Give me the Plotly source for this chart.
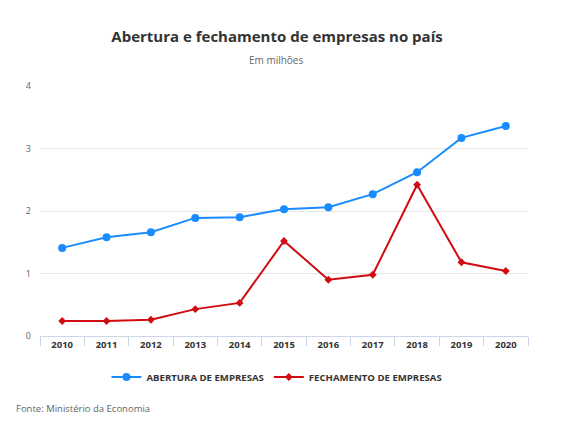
import plotly.graph_objects as go

anos = ["2010", "2011", "2012", "2013", "2014", "2015", "2016", "2017", "2018", "2019", "2020"]
abertura = [1.41, 1.58, 1.66, 1.89, 1.90, 2.03, 2.06, 2.27, 2.62, 3.17, 3.36]
fechamento = [0.24, 0.24, 0.26, 0.43, 0.53, 1.52, 0.90, 0.98, 2.42, 1.18, 1.04]

W, H = 567, 421
L, R, T, B = 40, 39, 86, 85
ph = H - T - B
pw = W - L - R

def py(px):
    return (H - B - px) / ph

def pxx(px):
    return (px - L) / pw

fig = go.Figure()
fig.add_trace(go.Scatter(
    x=anos, y=abertura, name="ABERTURA DE EMPRESAS", mode="lines+markers",
    line=dict(color="#1a8cff", width=2),
    marker=dict(symbol="circle", size=8, color="#1a8cff"),
))
fig.add_trace(go.Scatter(
    x=anos, y=fechamento, name="FECHAMENTO DE EMPRESAS", mode="lines+markers",
    line=dict(color="#d00b12", width=2),
    marker=dict(symbol="diamond", size=6, color="#d00b12"),
))

fig.update_layout(
    width=W, height=H,
    margin=dict(l=L, r=R, t=T, b=B),
    paper_bgcolor="white", plot_bgcolor="white",
    font=dict(family="Open Sans", color="#333333"),
    title=dict(text="<b>Abertura e fechamento de empresas no país</b>",
               x=277 / W, xref="container", xanchor="center",
               y=1 - 37 / H, yanchor="middle",
               font=dict(size=15, color="#333333")),
    showlegend=True,
    legend=dict(orientation="h", x=pxx(277), xanchor="center", y=py(377), yanchor="middle",
                font=dict(size=9.6, color="#333333", weight="bold"),
                tracegroupgap=0),
    annotations=[
        dict(text="Em milhões", x=pxx(276), y=py(60), xref="paper", yref="paper",
             showarrow=False, xanchor="center", yanchor="middle",
             font=dict(size=10, color="#666666")),
        dict(text="Fonte: Ministério da Economia", x=pxx(14), y=py(408),
             xref="paper", yref="paper", showarrow=False, xanchor="left", yanchor="middle",
             font=dict(size=9.5, color="#666666")),
    ],
    xaxis=dict(
        type="category", showgrid=False, showline=True, linecolor="#ccd6eb", linewidth=1,
        ticks="outside", tickson="boundaries", ticklen=9, tickcolor="#ccd6eb",
        tickfont=dict(size=9.5, color="#333333", weight="bold"),
        range=[-0.5, 10.5], fixedrange=True,
    ),
    yaxis=dict(
        range=[0, 4], dtick=1, showgrid=True, gridcolor="#e6e6e6", gridwidth=1,
        zeroline=False, showline=False, ticks="",
        tickfont=dict(size=9, color="#666666"), ticklabelstandoff=8,
    ),
)

fig.write_html("out.html")
